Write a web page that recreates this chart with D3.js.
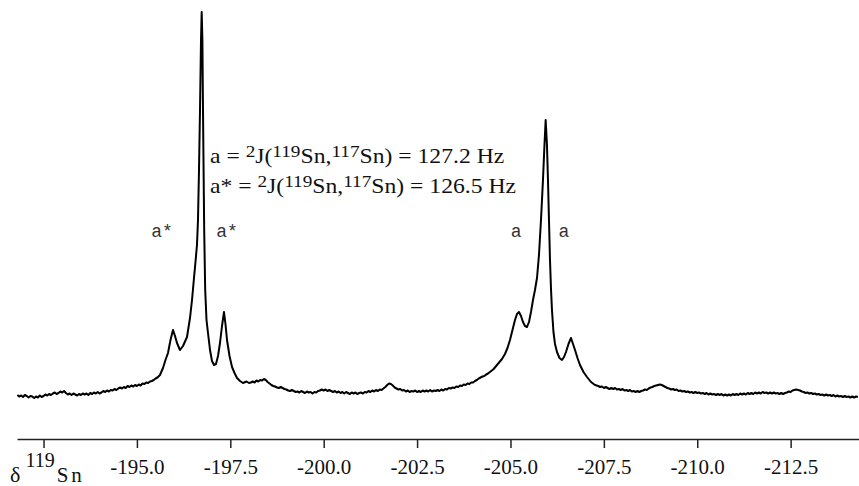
<!DOCTYPE html>
<html>
<head>
<meta charset="utf-8">
<script src="https://cdn.jsdelivr.net/npm/d3@7"></script>
<style>
  body { margin: 0; background: #fff; }
  svg { display: block; }
</style>
</head>
<body>
<div id="chart"></div>
<script>
// chemical shift (ppm), intensity (a.u.)
var baselineLeft = [
  [-191.80, 5], [-191.85, 3.5], [-191.90, 4.5], [-191.95, 3], [-192.00, 5], [-192.05, 4],
  [-192.10, 2.5], [-192.15, 4], [-192.20, 3.5], [-192.25, 2], [-192.30, 3.5], [-192.35, 2.5],
  [-192.40, 4.5], [-192.45, 3], [-192.50, 4], [-192.55, 5.5], [-192.60, 4.5], [-192.65, 6],
  [-192.70, 5], [-192.75, 6.5], [-192.80, 7.5], [-192.85, 6], [-192.90, 7], [-192.95, 8.5],
  [-193.00, 7.5], [-193.05, 9], [-193.10, 7], [-193.15, 5.5], [-193.20, 6.5], [-193.25, 5],
  [-193.30, 6.5], [-193.35, 5.5], [-193.40, 4.5], [-193.45, 6], [-193.50, 5], [-193.55, 6.5],
  [-193.60, 5.5], [-193.65, 6.5], [-193.70, 5], [-193.75, 7], [-193.80, 6], [-193.85, 7.5],
  [-193.90, 6.5], [-193.95, 8], [-194.00, 6.5], [-194.05, 7.5], [-194.10, 9], [-194.15, 8],
  [-194.20, 9.5], [-194.25, 8.5], [-194.30, 10], [-194.35, 9.5], [-194.40, 11], [-194.45, 10],
  [-194.50, 11.5], [-194.55, 12.5], [-194.60, 11.5], [-194.65, 13], [-194.70, 12], [-194.75, 14],
  [-194.80, 13], [-194.85, 14.5], [-194.90, 13.5], [-194.95, 15], [-195.00, 14], [-195.05, 15.5],
  [-195.10, 14.5], [-195.15, 16.5], [-195.20, 16], [-195.25, 17.5], [-195.30, 17], [-195.35, 18.5],
  [-195.40, 19], [-195.45, 20], [-195.50, 21.5], [-195.55, 22.5]
];

var peaksA = [
  [-195.618, 25], [-195.698, 32], [-195.765, 40], [-195.832, 47], [-195.899, 60],
  [-195.966, 70], [-196.020, 64], [-196.073, 57], [-196.153, 50], [-196.234, 54],
  [-196.341, 63], [-196.421, 82], [-196.475, 100], [-196.528, 122], [-196.568, 138],
  [-196.608, 155], [-196.635, 180], [-196.662, 230], [-196.689, 290], [-196.716, 360],
  [-196.734, 388], [-196.753, 360], [-196.769, 290], [-196.785, 230], [-196.801, 170],
  [-196.828, 110], [-196.863, 80], [-196.903, 67], [-196.957, 50], [-197.010, 39],
  [-197.064, 35], [-197.117, 36], [-197.171, 44], [-197.224, 57], [-197.278, 74],
  [-197.331, 88], [-197.371, 76], [-197.412, 60], [-197.479, 44], [-197.546, 33],
  [-197.613, 27], [-197.680, 22], [-197.760, 19], [-197.840, 17], [-197.934, 18.5],
  [-198.000, 17]
];

var baselineMid = [
  [-198.05, 17.5], [-198.10, 18.5], [-198.15, 17.5], [-198.20, 19.5], [-198.25, 18.5], [-198.30, 20],
  [-198.35, 19.5], [-198.40, 21], [-198.45, 20], [-198.50, 18], [-198.55, 16.5], [-198.60, 15],
  [-198.65, 14], [-198.70, 13.5], [-198.75, 12.5], [-198.80, 12], [-198.85, 13], [-198.90, 12],
  [-198.95, 11], [-199.00, 10.5], [-199.05, 9.5], [-199.10, 9], [-199.15, 10], [-199.20, 9],
  [-199.25, 8], [-199.30, 8.5], [-199.35, 7.5], [-199.40, 9], [-199.45, 8], [-199.50, 7],
  [-199.55, 8.5], [-199.60, 7.5], [-199.65, 8], [-199.70, 6.5], [-199.75, 8], [-199.80, 7.5],
  [-199.85, 9], [-199.90, 9.5], [-199.95, 10.5], [-200.00, 9.5], [-200.05, 10.5], [-200.10, 9],
  [-200.15, 10], [-200.20, 9], [-200.25, 8], [-200.30, 9], [-200.35, 7.5], [-200.40, 8.5],
  [-200.45, 7], [-200.50, 8], [-200.55, 6.5], [-200.60, 8], [-200.65, 7], [-200.70, 6],
  [-200.75, 7.5], [-200.80, 6.5], [-200.85, 7.5], [-200.90, 6], [-200.95, 7], [-201.00, 7.5],
  [-201.05, 6.5], [-201.10, 8], [-201.15, 7.5], [-201.20, 9], [-201.25, 8], [-201.30, 9.5],
  [-201.35, 8.5], [-201.40, 10], [-201.45, 9], [-201.50, 10.5], [-201.55, 10], [-201.60, 11.5],
  [-201.65, 13], [-201.70, 15], [-201.75, 16.5], [-201.80, 16], [-201.85, 14.5], [-201.90, 12.5],
  [-201.95, 11.5], [-202.00, 10.5], [-202.05, 11], [-202.10, 9.5], [-202.15, 10], [-202.20, 8.5],
  [-202.25, 9.5], [-202.30, 8], [-202.35, 9], [-202.40, 8.5], [-202.45, 9.5], [-202.50, 8],
  [-202.55, 9], [-202.60, 8], [-202.65, 9.5], [-202.70, 8.5], [-202.75, 9.5], [-202.80, 8.5],
  [-202.85, 10], [-202.90, 8.5], [-202.95, 9.5], [-203.00, 9], [-203.05, 10], [-203.10, 9],
  [-203.15, 10.5], [-203.20, 9.5], [-203.25, 11], [-203.30, 10.5], [-203.35, 12], [-203.40, 11.5],
  [-203.45, 12.5], [-203.50, 12], [-203.55, 13.5], [-203.60, 13], [-203.65, 14.5], [-203.70, 14],
  [-203.75, 15.5], [-203.80, 15], [-203.85, 16.5], [-203.90, 16], [-203.95, 17.5], [-204.00, 17.5],
  [-204.05, 19], [-204.10, 20], [-204.15, 21.5], [-204.20, 22.5], [-204.25, 23.5], [-204.30, 24],
  [-204.35, 25.5], [-204.40, 26.5], [-204.45, 28], [-204.50, 29.5], [-204.55, 31]
];

var peaksB = [
  [-204.639, 35], [-204.773, 41], [-204.853, 46], [-204.920, 52], [-204.987, 60],
  [-205.054, 70], [-205.121, 80], [-205.175, 86], [-205.228, 88], [-205.282, 84],
  [-205.335, 78], [-205.389, 74], [-205.442, 73], [-205.496, 78], [-205.549, 88],
  [-205.603, 100], [-205.656, 110], [-205.710, 122], [-205.763, 145], [-205.817, 180],
  [-205.870, 220], [-205.910, 255], [-205.942, 280], [-205.977, 255], [-206.004, 220],
  [-206.031, 180], [-206.058, 140], [-206.084, 112], [-206.111, 90], [-206.151, 68],
  [-206.192, 56], [-206.245, 48], [-206.312, 42], [-206.379, 40], [-206.433, 43],
  [-206.486, 48], [-206.553, 56], [-206.620, 62], [-206.674, 56], [-206.728, 50],
  [-206.794, 42], [-206.861, 35], [-206.955, 28], [-207.049, 23], [-207.156, 18],
  [-207.263, 15]
];

var baselineRight = [
  [-207.35, 14], [-207.40, 13], [-207.45, 13.5], [-207.50, 12], [-207.55, 13], [-207.60, 12],
  [-207.65, 11], [-207.70, 12], [-207.75, 11], [-207.80, 12], [-207.85, 10.5], [-207.90, 11],
  [-207.95, 10], [-208.00, 11], [-208.05, 9.5], [-208.10, 10], [-208.15, 9], [-208.20, 10],
  [-208.25, 8.5], [-208.30, 9], [-208.35, 8], [-208.40, 9], [-208.45, 8], [-208.50, 9],
  [-208.55, 9.5], [-208.60, 10.5], [-208.65, 10], [-208.70, 11.5], [-208.75, 12.5], [-208.80, 13],
  [-208.85, 14], [-208.90, 14.5], [-208.95, 15], [-209.00, 15.5], [-209.05, 15], [-209.10, 14],
  [-209.15, 13], [-209.20, 12], [-209.25, 11.5], [-209.30, 10.5], [-209.35, 11], [-209.40, 10],
  [-209.45, 10.5], [-209.50, 9], [-209.55, 9.5], [-209.60, 8.5], [-209.65, 9], [-209.70, 8],
  [-209.75, 8.5], [-209.80, 7.5], [-209.85, 8], [-209.90, 7], [-209.95, 8], [-210.00, 7],
  [-210.05, 7.5], [-210.10, 6.5], [-210.15, 7], [-210.20, 6], [-210.25, 7], [-210.30, 5.5],
  [-210.35, 6.5], [-210.40, 5.5], [-210.45, 6], [-210.50, 5], [-210.55, 6], [-210.60, 5],
  [-210.65, 6], [-210.70, 4.5], [-210.75, 5.5], [-210.80, 4.5], [-210.85, 5.5], [-210.90, 4.5],
  [-210.95, 6], [-211.00, 5], [-211.05, 6], [-211.10, 5], [-211.15, 6.5], [-211.20, 5.5],
  [-211.25, 6.5], [-211.30, 5.5], [-211.35, 7], [-211.40, 6], [-211.45, 7], [-211.50, 6],
  [-211.55, 7.5], [-211.60, 6.5], [-211.65, 7.5], [-211.70, 6.5], [-211.75, 8], [-211.80, 7],
  [-211.85, 7.5], [-211.90, 6.5], [-211.95, 7.5], [-212.00, 6.5], [-212.05, 7.5], [-212.10, 6.5],
  [-212.15, 7], [-212.20, 6], [-212.25, 7], [-212.30, 6], [-212.35, 7], [-212.40, 7.5],
  [-212.45, 8.5], [-212.50, 8], [-212.55, 9.5], [-212.60, 10], [-212.65, 10.5], [-212.70, 10],
  [-212.75, 9.5], [-212.80, 8.5], [-212.85, 8], [-212.90, 7], [-212.95, 7.5], [-213.00, 6.5],
  [-213.05, 7], [-213.10, 6], [-213.15, 6.5], [-213.20, 5.5], [-213.25, 6], [-213.30, 5],
  [-213.35, 5.5], [-213.40, 4.5], [-213.45, 5.5], [-213.50, 4.5], [-213.55, 5], [-213.60, 4],
  [-213.65, 5], [-213.70, 3.5], [-213.75, 4.5], [-213.80, 3.5], [-213.85, 4], [-213.90, 3],
  [-213.95, 4], [-214.00, 3], [-214.05, 3.5], [-214.10, 2.5], [-214.15, 3.5], [-214.20, 2.5],
  [-214.25, 3.5], [-214.30, 3]
];

var tickValues = [-192.5, -195.0, -197.5, -200.0, -202.5, -205.0, -207.5, -210.0, -212.5];

// satellite labels: [shift, text]
var satLabels = [[-195.67, "a*"], [-197.41, "a*"], [-205.15, "a"], [-206.43, "a"]];

var spectrum = baselineLeft.concat(peaksA, baselineMid, peaksB, baselineRight);

var width = 859, height = 486;
var serif = "'Liberation Serif', 'Times New Roman', Times, serif";

var svg = d3.select("#chart").append("svg")
    .attr("width", width)
    .attr("height", height);

var x = d3.scaleLinear()
    .domain([-191.79, -214.33])
    .range([17, 859]);

var y = d3.scaleLinear()
    .domain([0, 388])
    .range([400, 12]);

var line = d3.line()
    .x(function(d) { return x(d[0]); })
    .y(function(d) { return y(d[1]); });

svg.append("path")
    .datum(spectrum)
    .attr("fill", "none")
    .attr("stroke", "#000")
    .attr("stroke-width", 2)
    .attr("stroke-linejoin", "round")
    .attr("d", line);

//********** AXIS ************
var xAxis = d3.axisBottom(x)
    .tickValues(tickValues)
    .tickSize(9)
    .tickSizeOuter(0)
    .tickPadding(11)
    .tickFormat(function(d) { return d === -192.5 ? "" : d.toFixed(1); });

var gx = svg.append("g")
    .attr("transform", "translate(0,439)")
    .attr("font-family", serif)
    .attr("font-size", 21)
    .call(xAxis);

gx.select(".domain").attr("stroke", "#222").attr("stroke-width", 1.5);
gx.selectAll(".tick line").attr("stroke", "#222").attr("stroke-width", 1.5);
gx.selectAll(".tick text")
    .attr("font-family", serif)
    .attr("font-size", 21)
    .attr("fill", "#111");

var title = svg.append("text")
    .attr("x", 10)
    .attr("y", 482)
    .attr("font-family", serif)
    .attr("fill", "#111");
title.append("tspan").attr("font-size", 22).text("δ");
title.append("tspan").attr("dx", 5).attr("dy", -15).attr("font-size", 20).text("119");
title.append("tspan").attr("dx", 2).attr("dy", 15).attr("font-size", 21)
    .attr("letter-spacing", 3).text("Sn");

//********** ANNOTATIONS ************
function coupling(yPos, lead, value) {
    var t = svg.append("text")
        .attr("transform", "translate(210," + yPos + ") scale(1.1,1)")
        .attr("font-family", serif)
        .attr("font-size", 21.5)
        .attr("fill", "#111");
    t.append("tspan").text(lead + " = ");
    t.append("tspan").attr("dy", -6.5).attr("font-size", 17.5).text("2");
    t.append("tspan").attr("dy", 6.5).text("J(");
    t.append("tspan").attr("dy", -6.5).attr("font-size", 17.5).text("119");
    t.append("tspan").attr("dy", 6.5).text("Sn,");
    t.append("tspan").attr("dy", -6.5).attr("font-size", 17.5).text("117");
    t.append("tspan").attr("dy", 6.5).text("Sn) = " + value + " Hz");
}
coupling(163, "a", "127.2");
coupling(193, "a*", "126.5");

svg.selectAll(".sat")
    .data(satLabels)
    .enter().append("text")
    .attr("class", "sat")
    .attr("x", function(d) { return x(d[0]); })
    .attr("y", 237)
    .attr("text-anchor", "middle")
    .attr("font-family", "'Liberation Mono', 'Courier New', monospace")
    .attr("font-size", 18)
    .attr("fill", "#333")
    .text(function(d) { return d[1]; });
</script>
</body>
</html>
